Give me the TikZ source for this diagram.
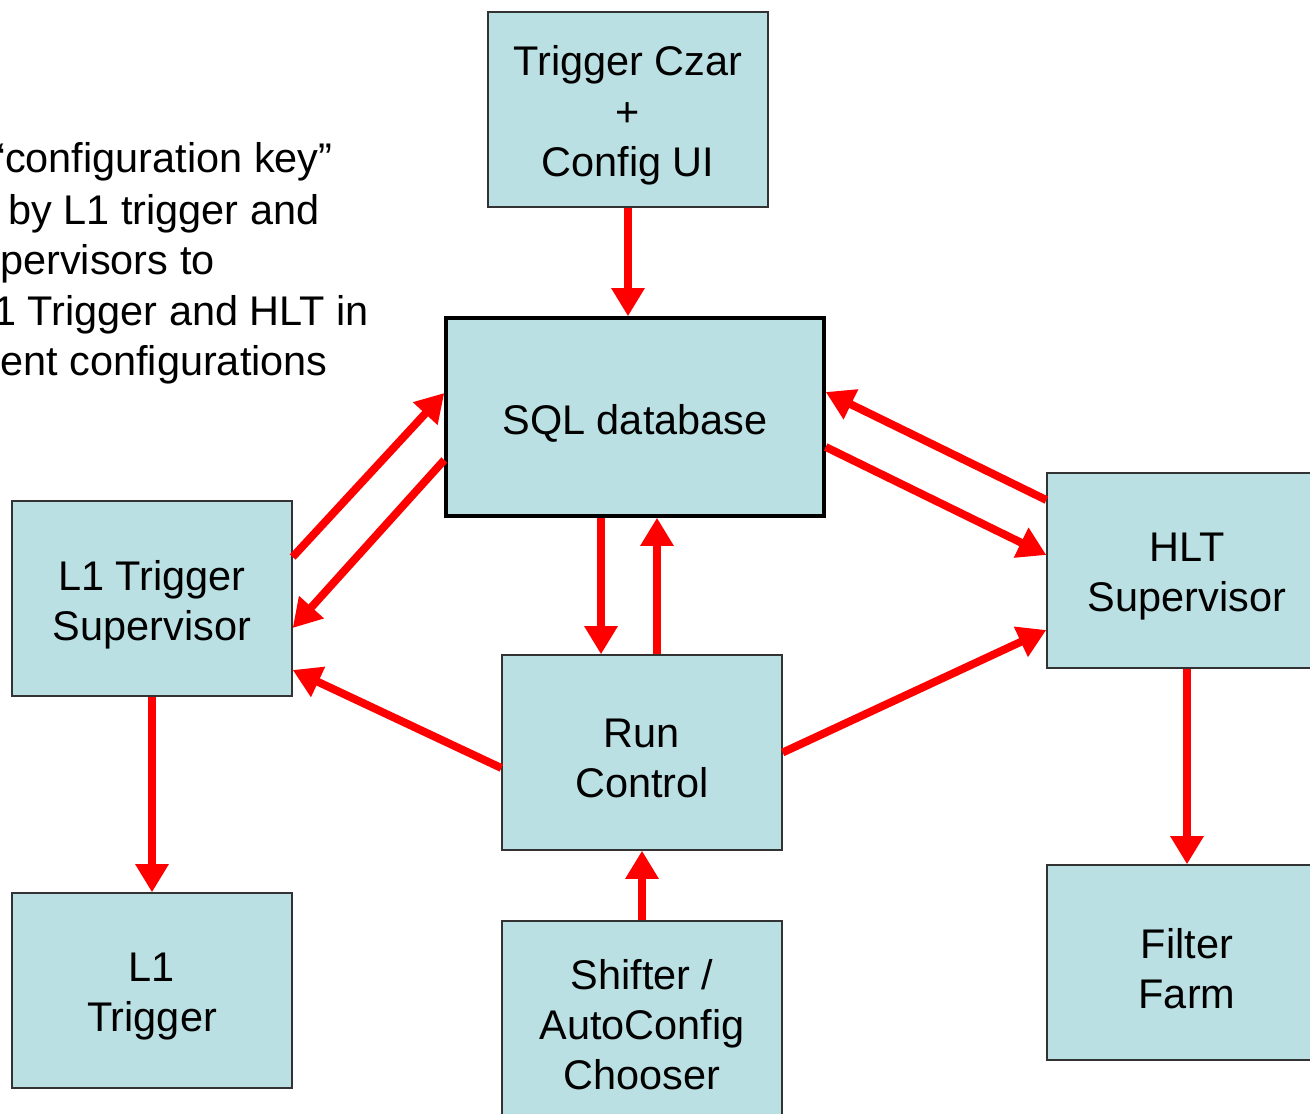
\documentclass[tikz,border=0pt]{standalone}
\usepackage{fontspec}
\setmainfont{Liberation Sans}
\usetikzlibrary{arrows.meta,calc}
\definecolor{boxfill}{RGB}{187,224,227}
\definecolor{arrowred}{RGB}{255,0,0}
\begin{document}
\begin{tikzpicture}[x=0.02cm,y=-0.02cm,
 box/.style={draw=black!80, line width=0.8pt, fill=boxfill, minimum width=5.6cm, minimum height=3.9cm, inner sep=0pt},
 boxtext/.style={align=center, font=\fontsize{23.6}{28.6}\selectfont, inner sep=0pt},
 link/.style={draw=arrowred, line width=4.5pt, -{Triangle[length=16pt,width=18pt]}},
 note/.style={anchor=base west, font=\fontsize{23.6}{28.6}\selectfont, inner sep=0pt}]
\useasboundingbox (0,0) rectangle (1310,1114);
\clip (0,0) rectangle (1310,1114);
\node[box] (czar) at (628,109.5) {};
\node[box, line width=2pt, draw=black, minimum width=7.56cm, minimum height=3.96cm] (sql) at (635,417) {};
\node[box] (l1sup) at (152,598.5) {};
\node[box] (hlt) at (1187,570.5) {};
\node[box] (rc) at (642,752.5) {};
\node[box] (l1) at (152,990.5) {};
\node[box] (shift) at (642,1018.5) {};
\node[box] (farm) at (1187,962.5) {};

\node[boxtext] (czar-t) at ([yshift=-0.12cm]czar.center) {Trigger Czar\\+\\Config UI};
\node[boxtext] (sql-t) at ([yshift=-0.12cm]sql.center) {SQL database};
\node[boxtext] (l1sup-t) at ([yshift=-0.12cm]l1sup.center) {L1 Trigger\\Supervisor};
\node[boxtext] (hlt-t) at ([yshift=-0.12cm]hlt.center) {HLT\\Supervisor};
\node[boxtext] (rc-t) at ([yshift=-0.12cm]rc.center) {Run\\Control};
\node[boxtext] (l1-t) at ([yshift=-0.12cm]l1.center) {L1\\Trigger};
\node[boxtext] (shift-t) at ([yshift=-0.12cm]shift.center) {Shifter /\\AutoConfig\\Chooser};
\node[boxtext] (farm-t) at ([yshift=-0.12cm]farm.center) {Filter\\Farm};

\node[note] (n1) at (-9,173) {“configuration key”};
\node[note] (n2) at (8,225) {by L1 trigger and};
\node[note] (n3) at (0,275) {pervisors to};
\node[note] (n4) at (-7,326) {1 Trigger and HLT in};
\node[note] (n5) at (0,376) {ent configurations};

\draw[link] (czar.south) -- (czar.south |- sql.north);
\draw[link] ([yshift=0.83cm]l1sup.east) -- ([yshift=0.48cm]sql.west);
\draw[link] ([yshift=-0.86cm]sql.west) -- ([yshift=-0.59cm]l1sup.east);
\draw[link] ([yshift=1.41cm]hlt.west) -- ([yshift=0.5cm]sql.east);
\draw[link] ([yshift=-0.6cm]sql.east) -- ([yshift=0.31cm]hlt.west);
\draw[link] ([xshift=-0.68cm]sql.south) -- ([xshift=-0.68cm]sql.south |- rc.north);
\draw[link] ([xshift=0.3cm]rc.north) -- ([xshift=0.3cm]rc.north |- sql.south);
\draw[link] ([yshift=-0.31cm]rc.west) -- ([yshift=-1.43cm]l1sup.east);
\draw[link] (rc.east) -- ([yshift=-1.19cm]hlt.west);
\draw[link] (l1sup.south) -- (l1.north);
\draw[link] (hlt.south) -- (farm.north);
\draw[link] (shift.north) -- (rc.south);
\end{tikzpicture}
\end{document}
